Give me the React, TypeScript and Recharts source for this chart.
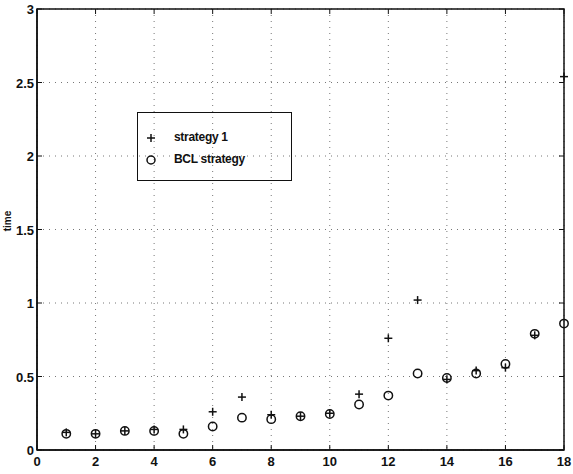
import React from "react";
import { ScatterChart, Scatter, XAxis, YAxis, CartesianGrid } from "recharts";

const xValues = [1, 2, 3, 4, 5, 6, 7, 8, 9, 10, 11, 12, 13, 14, 15, 16, 17, 18];
const strategy1 = [0.12, 0.11, 0.13, 0.14, 0.14, 0.26, 0.36, 0.24, 0.23, 0.25, 0.38, 0.76, 1.02, 0.48, 0.54, 0.56, 0.78, 2.54];
const bclStrategy = [0.11, 0.11, 0.13, 0.13, 0.11, 0.16, 0.22, 0.21, 0.23, 0.245, 0.31, 0.37, 0.52, 0.49, 0.52, 0.585, 0.79, 0.86];
const xTicks = [0, 2, 4, 6, 8, 10, 12, 14, 16, 18];
const yTicks = [0, 0.5, 1, 1.5, 2, 2.5, 3];
const yTickLabels = ["0", "0.5", "1", "1.5", "2", "2.5", "3"];
const seriesNames = ["strategy 1", "BCL strategy"];
const xMax = 18;
const yMax = 3;

const s1Data = xValues.map((x, i) => ({ x, y: strategy1[i] }));
const bclData = xValues.map((x, i) => ({ x, y: bclStrategy[i] }));

const FONT = "'Liberation Sans', Arial, Helvetica, sans-serif";

// layout constants
const CHART_W = 573;
const CHART_H = 474;
const MARGIN = { top: 9, right: 9, bottom: 0, left: 0 };
const XAXIS_H = 24;
const YAXIS_W = 37;
const PLOT_L = MARGIN.left + YAXIS_W;
const PLOT_T = MARGIN.top;
const PLOT_W = CHART_W - MARGIN.left - MARGIN.right - YAXIS_W;
const PLOT_H = CHART_H - MARGIN.top - MARGIN.bottom - XAXIS_H;

const PlusShape = (props: any) => {
  const { cx, cy } = props;
  if (cx == null || cy == null) return null;
  return (
    <g>
      <line x1={cx - 4} x2={cx + 4} y1={cy} y2={cy} stroke="#111" strokeWidth={1.5} />
      <line x1={cx} x2={cx} y1={cy - 4} y2={cy + 4} stroke="#111" strokeWidth={1.5} />
    </g>
  );
};

const CircleShape = (props: any) => {
  const { cx, cy } = props;
  if (cx == null || cy == null) return null;
  return <circle cx={cx} cy={cy} r={4.2} fill="none" stroke="#111" strokeWidth={1.5} />;
};

const BottomTick = (props: any) => {
  const { x, y, payload } = props;
  return (
    <text x={x} y={y + 16} textAnchor="middle" fontFamily={FONT} fontWeight="bold" fontSize={13} fill="#111">
      {payload.value}
    </text>
  );
};

const LeftTick = (props: any) => {
  const { x, y, payload, index } = props;
  return (
    <text x={x - 3} y={y + 5} textAnchor="end" fontFamily={FONT} fontWeight="bold" fontSize={13} fill="#111">
      {yTickLabels[index] ?? payload.value}
    </text>
  );
};

// Axis frame (box + inward ticks), laid out on the plot rectangle
const Frame = () => {
  const fx = (v: number) => PLOT_L + (v / xMax) * PLOT_W;
  const fy = (v: number) => PLOT_T + PLOT_H - (v / yMax) * PLOT_H;
  return (
    <svg
      width={CHART_W}
      height={CHART_H}
      style={{ position: "absolute", left: 0, top: 0, pointerEvents: "none" }}
    >
      <rect x={PLOT_L} y={PLOT_T} width={PLOT_W} height={PLOT_H} fill="none" stroke="#111" strokeWidth={1.5} />
      {xTicks.map((t) => (
        <g key={"x" + t}>
          <line x1={fx(t)} x2={fx(t)} y1={PLOT_T + PLOT_H} y2={PLOT_T + PLOT_H - 5} stroke="#111" strokeWidth={1} />
          <line x1={fx(t)} x2={fx(t)} y1={PLOT_T} y2={PLOT_T + 5} stroke="#111" strokeWidth={1} />
        </g>
      ))}
      {yTicks.map((t) => (
        <g key={"y" + t}>
          <line x1={PLOT_L} x2={PLOT_L + 5} y1={fy(t)} y2={fy(t)} stroke="#111" strokeWidth={1} />
          <line x1={PLOT_L + PLOT_W} x2={PLOT_L + PLOT_W - 5} y1={fy(t)} y2={fy(t)} stroke="#111" strokeWidth={1} />
        </g>
      ))}
    </svg>
  );
};

export default function App() {
  return (
    <div style={{ position: "absolute", left: 0, top: 0, width: CHART_W, height: CHART_H, background: "#fff" }}>
      <ScatterChart width={CHART_W} height={CHART_H} margin={MARGIN}>
        <CartesianGrid stroke="#777" strokeDasharray="1 5" strokeWidth={1} />
        <XAxis
          type="number"
          dataKey="x"
          domain={[0, xMax]}
          ticks={xTicks}
          interval={0}
          height={XAXIS_H}
          tickSize={0}
          tickMargin={0}
          tick={<BottomTick />}
          axisLine={{ stroke: "#111", strokeWidth: 1.5 }}
        />
        <YAxis
          type="number"
          dataKey="y"
          domain={[0, yMax]}
          ticks={yTicks}
          interval={0}
          width={YAXIS_W}
          tickSize={0}
          tickMargin={0}
          tick={<LeftTick />}
          axisLine={{ stroke: "#111", strokeWidth: 1.5 }}
        />
        <Scatter
          name={seriesNames[1]}
          data={bclData}
          shape={<CircleShape />}
          isAnimationActive={false}
        />
        <Scatter
          name={seriesNames[0]}
          data={s1Data}
          shape={<PlusShape />}
          isAnimationActive={false}
        />
      </ScatterChart>
      <Frame />
      <div
        style={{
          position: "absolute",
          left: 7,
          top: 221,
          transform: "translate(-50%, -50%) rotate(-90deg)",
          fontFamily: FONT,
          fontWeight: "bold",
          fontSize: 10,
          color: "#111",
        }}
      >
        time
      </div>
      <div
        style={{
          position: "absolute",
          left: 137,
          top: 112,
          width: 155,
          height: 69,
          border: "1.5px solid #111",
          boxSizing: "border-box",
          fontFamily: FONT,
          fontWeight: "bold",
          fontSize: 12,
          color: "#111",
        }}
      >
        <svg width={20} height={60} style={{ position: "absolute", left: 5, top: 10 }}>
          <line x1={4} x2={12} y1={15} y2={15} stroke="#111" strokeWidth={1.5} />
          <line x1={8} x2={8} y1={11} y2={19} stroke="#111" strokeWidth={1.5} />
          <circle cx={8} cy={37} r={4} fill="none" stroke="#111" strokeWidth={1.5} />
        </svg>
        <div style={{ position: "absolute", left: 36, top: 17, letterSpacing: -0.3 }}>{seriesNames[0]}</div>
        <div style={{ position: "absolute", left: 36, top: 39, letterSpacing: -0.3 }}>{seriesNames[1]}</div>
      </div>
    </div>
  );
}
